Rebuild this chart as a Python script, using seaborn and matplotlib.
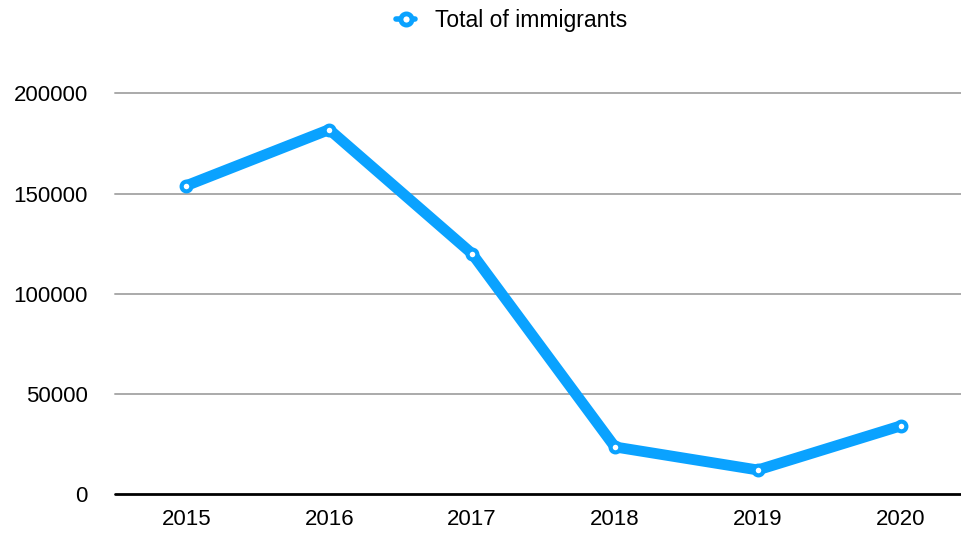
import matplotlib
matplotlib.use("Agg")
import matplotlib.pyplot as plt
from matplotlib.lines import Line2D
import seaborn as sns
import pandas as pd

years = ["2015", "2016", "2017", "2018", "2019", "2020"]
immigrants = [154000, 182000, 120000, 23500, 12000, 34000]
series_name = "Total of immigrants"
y_ticks = [0, 50000, 100000, 150000, 200000]

blue = "#0AA2FF"

sns.set_theme(style="white")
plt.rcParams["font.family"] = ["Liberation Sans", "DejaVu Sans"]

df = pd.DataFrame({"year": years, "value": immigrants})

fig = plt.figure(figsize=(9.62, 5.34), dpi=100)
ax = fig.add_axes([115 / 962, 40 / 534, 1 - 115 / 962, 400.5 / 534])

sns.lineplot(data=df, x="year", y="value", ax=ax, color=blue, linewidth=7.8,
             marker="o", markersize=7.0, markerfacecolor="white",
             markeredgecolor=blue, markeredgewidth=3.0, sort=False,
             clip_on=False, zorder=5)

ax.set_xlim(-0.5, 5.43)
ax.set_ylim(0, 200000)
ax.set_yticks(y_ticks)
ax.set_yticklabels([str(v) for v in y_ticks])
ax.set_xlabel("")
ax.set_ylabel("")

for v in y_ticks[1:]:
    ax.axhline(v, color="#AAAAAA", linewidth=1.4, zorder=1, clip_on=False)
ax.axhline(0, color="black", linewidth=2.0, zorder=2, clip_on=False)

for side in ["top", "right", "left", "bottom"]:
    ax.spines[side].set_visible(False)

ax.tick_params(axis="both", length=0, labelsize=16, colors="black")
ax.tick_params(axis="y", pad=19.5)
ax.tick_params(axis="x", pad=11)

handle = Line2D([0], [0], color=blue, linewidth=4, marker="o", markersize=8,
                markerfacecolor="white", markeredgecolor=blue, markeredgewidth=3.5)
leg = fig.legend(handles=[handle], labels=[series_name], loc="center",
                 bbox_to_anchor=(512 / 962, 1 - 21 / 534), frameon=False,
                 fontsize=16.5, handlelength=0.8, handletextpad=0.9)
for t in leg.get_texts():
    t.set_color("black")

fig.savefig("out.png", dpi=100)
